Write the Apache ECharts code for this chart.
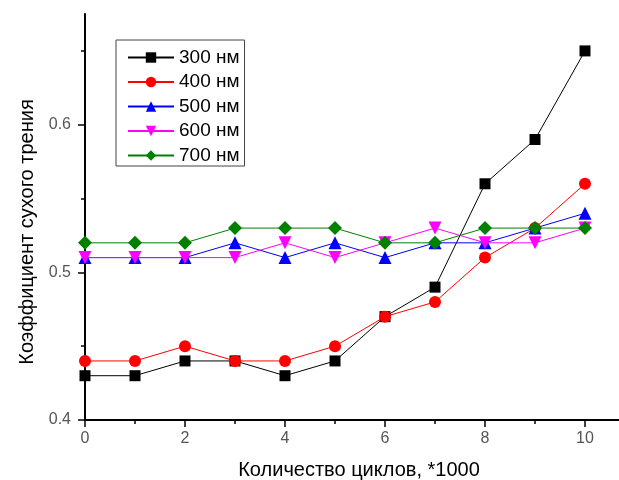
<!DOCTYPE html>
<html><head><meta charset="utf-8">
<script src="https://cdn.jsdelivr.net/npm/echarts@6/dist/echarts.min.js"></script>
<style>html,body{margin:0;padding:0;background:#fff}#c{width:619px;height:480px}</style>
</head><body><div id="c"></div>
<script>
const cycles = [0,1,2,3,4,5,6,7,8,9,10];
const s300 = [0.43,0.43,0.44,0.44,0.43,0.44,0.47,0.49,0.56,0.59,0.65];
const s400 = [0.44,0.44,0.45,0.44,0.44,0.45,0.47,0.48,0.51,0.53,0.56];
const s500 = [0.51,0.51,0.51,0.52,0.51,0.52,0.51,0.52,0.52,0.53,0.54];
const s600 = [0.51,0.51,0.51,0.51,0.52,0.51,0.52,0.53,0.52,0.52,0.53];
const s700 = [0.52,0.52,0.52,0.53,0.53,0.53,0.52,0.52,0.53,0.53,0.53];
const names = ['300 нм','400 нм','500 нм','600 нм','700 нм'];
const xMajor = [0,2,4,6,8,10];
const xMinor = [1,3,5,7,9];
const yMajor = [0.4,0.5,0.6];
const yMinor = [0.45,0.55,0.65];

const font = 'Liberation Sans, Arial, sans-serif';
function pairs(v){ return cycles.map((x,i)=>[x,v[i]]); }
const styles = [
  {color:'#000000', symbol:'rect', size:11, rot:0},
  {color:'#ff0000', symbol:'circle', size:12, rot:0},
  {color:'#0000ff', symbol:'triangle', size:13, rot:0},
  {color:'#ff00ff', symbol:'triangle', size:13, rot:180},
  {color:'#008000', symbol:'diamond', size:14, rot:0}
];
const data = [s300,s400,s500,s600,s700];
const series = data.map((v,i)=>({
  name: names[i], type:'line', xAxisIndex:0, yAxisIndex:0,
  data: pairs(v), symbol: styles[i].symbol, symbolSize: styles[i].size,
  symbolRotate: styles[i].rot, showAllSymbol:true,
  lineStyle:{color:styles[i].color, width:1},
  itemStyle:{color:styles[i].color},
  emphasis:{disabled:true}, animation:false
}));

const chart = echarts.init(document.getElementById('c'));
chart.setOption({
  backgroundColor:'#fff',
  animation:false,
  grid:{left:85, top:14, right:0, bottom:60, containLabel:false, outerBoundsMode:'none'},
  legend:{
    left:116, top:40, orient:'vertical',
    data:names,
    itemWidth:46, itemHeight:13, itemGap:5.5,
    padding:[8,5,1,11],
    borderColor:'#444', borderWidth:1,
    textStyle:{fontFamily:font, fontSize:19, color:'#000'},
    selectedMode:false
  },
  xAxis:[{
    type:'value', min:0, max:10.68,
    name:'Количество циклов, *1000', nameLocation:'middle', nameGap:40,
    nameTextStyle:{fontFamily:font, fontSize:20, color:'#000', padding:[0,0,0,14]},
    axisLine:{show:true, onZero:false, lineStyle:{color:'#000', width:2}},
    axisTick:{show:true, inside:false, length:7, customValues:xMajor, lineStyle:{color:'#000', width:1.5}},
    axisLabel:{customValues:xMajor, fontFamily:font, fontSize:16, color:'#555', margin:11},
    splitLine:{show:false}
  },{
    type:'value', min:0, max:10.68, position:'bottom',
    axisLine:{show:false},
    axisTick:{show:true, length:4, customValues:xMinor, lineStyle:{color:'#000', width:1.5}},
    axisLabel:{show:false}, splitLine:{show:false}
  }],
  yAxis:[{
    type:'value', min:0.4, max:0.675,
    name:'Коэффициент сухого трения', nameLocation:'middle', nameGap:48,
    nameTextStyle:{fontFamily:font, fontSize:20, color:'#000', padding:[0,30,0,0]},
    axisLine:{show:true, onZero:false, lineStyle:{color:'#000', width:2}},
    axisTick:{show:true, inside:false, length:7, customValues:yMajor, lineStyle:{color:'#000', width:1.5}},
    axisLabel:{customValues:yMajor, fontFamily:font, fontSize:16, color:'#555', margin:14,
      formatter:v=>v.toFixed(1)},
    splitLine:{show:false}
  },{
    type:'value', min:0.4, max:0.675, position:'left',
    axisLine:{show:false},
    axisTick:{show:true, length:4, customValues:yMinor, lineStyle:{color:'#000', width:1.5}},
    axisLabel:{show:false}, splitLine:{show:false}
  }],
  series: series
});
</script>
</body></html>
